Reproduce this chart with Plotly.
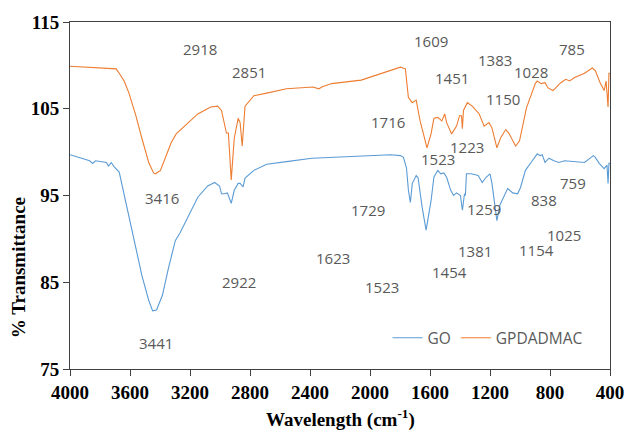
import plotly.graph_objects as go

# ---- data (wavenumber cm-1, % transmittance) ----
go_x = [4000, 3869, 3849, 3830, 3757, 3744, 3725, 3705, 3672, 3620, 3607, 3561, 3521,
        3475, 3449, 3423, 3384, 3344, 3298, 3266, 3200, 3148, 3082, 3036, 3003, 2990,
        2970, 2951, 2925, 2905, 2879, 2866, 2846, 2833, 2774, 2689, 2557, 2387, 1862,
        1797, 1777, 1757, 1744, 1731, 1718, 1692, 1679, 1652, 1626, 1593, 1574, 1548,
        1528, 1508, 1489, 1462, 1443, 1423, 1397, 1384, 1370, 1364, 1357, 1325, 1279,
        1252, 1226, 1200, 1187, 1167, 1154, 1134, 1102, 1082, 1049, 1016, 997, 964,
        918, 885, 866, 852, 833, 807, 774, 741, 702, 610, 570, 511, 498, 472, 439,
        420, 413, 407, 400]
go_y = [99.7, 99.0, 98.7, 99.0, 98.8, 98.4, 98.8, 98.3, 97.7, 93.6, 92.7, 88.9, 85.8,
        82.9, 81.7, 81.8, 83.5, 86.6, 89.8, 90.7, 93.0, 94.8, 96.1, 96.5, 96.1, 95.2,
        95.2, 95.3, 94.1, 95.6, 96.4, 96.4, 96.0, 97.0, 97.9, 98.6, 98.9, 99.3, 99.7,
        99.6, 99.4, 98.2, 95.6, 94.2, 96.4, 97.3, 97.0, 93.6, 91.0, 94.4, 97.1, 97.9,
        97.5, 97.6, 97.1, 95.6, 95.0, 95.3, 95.0, 93.3, 95.2, 95.0, 97.5, 97.5, 97.3,
        96.5, 97.1, 97.5, 96.4, 93.6, 92.1, 93.9, 95.2, 95.8, 95.3, 95.2, 95.9, 97.9,
        99.0, 99.8, 99.6, 99.7, 98.8, 99.3, 99.0, 98.8, 99.0, 98.9, 98.8, 99.6, 99.4,
        98.7, 98.1, 98.5, 96.4, 98.7, 98.7]

gp_x = [4000, 3869, 3803, 3692, 3672, 3639, 3607, 3561, 3521, 3475, 3443, 3430, 3397,
        3364, 3325, 3292, 3233, 3148, 3062, 3016, 2990, 2970, 2957, 2944, 2925, 2905,
        2879, 2866, 2852, 2833, 2774, 2689, 2557, 2380, 2361, 2341, 2321, 2256, 2059,
        1797, 1764, 1744, 1718, 1692, 1666, 1620, 1593, 1574, 1548, 1521, 1502, 1489,
        1456, 1423, 1403, 1390, 1384, 1377, 1351, 1318, 1272, 1239, 1207, 1187, 1154,
        1128, 1095, 1075, 1029, 1003, 957, 898, 885, 859, 833, 813, 780, 728, 695, 669,
        636, 570, 518, 498, 466, 439, 426, 413, 407, 400]
gp_y = [109.9, 109.8, 109.7, 109.6, 109.1, 108.2, 106.8, 104.2, 101.6, 98.8, 97.6, 97.5,
        97.9, 99.3, 101.1, 102.1, 103.0, 104.4, 105.2, 105.3, 104.8, 103.4, 102.2, 102.2,
        96.8, 101.6, 103.9, 103.4, 100.7, 105.3, 106.5, 106.8, 107.3, 107.5, 107.4,
        107.3, 107.5, 107.9, 108.3, 109.8, 109.6, 106.3, 105.7, 106.0, 103.6, 100.5,
        102.1, 103.9, 104.0, 103.6, 104.4, 103.4, 102.1, 103.0, 104.2, 104.2, 102.7,
        104.8, 105.7, 105.3, 104.4, 103.0, 103.4, 102.8, 100.5, 101.7, 102.6, 102.2,
        100.7, 101.3, 105.1, 107.9, 108.2, 107.9, 108.0, 107.4, 107.1, 108.0, 108.4,
        108.2, 108.6, 109.1, 109.7, 109.4, 108.0, 107.1, 108.2, 105.2, 109.1, 109.1]

# peak labels
gp_labels = ["2918", "2851", "3416", "1609", "1716", "1451", "1383", "1028", "785",
             "1150", "1223", "1523"]
gp_label_x = [3134, 2807, 3384, 1593, 1882, 1456, 1167, 925, 656, 1115, 1351, 1548]
gp_label_y = [111.9, 109.25, 94.66, 112.8, 103.5, 108.6, 110.6, 109.25, 111.9,
              106.15, 100.6, 99.25]

go_labels = ["3441", "2922", "1729", "1623", "1523", "1454", "1381", "1259", "1154",
             "1025", "838", "759"]
go_label_x = [3430, 2872, 2013, 2249, 1921, 1469, 1298, 1239, 892, 708, 839, 649]
go_label_y = [78.0, 85.0, 93.3, 87.8, 84.4, 86.15, 88.6, 93.5, 88.7, 90.5, 94.5, 96.4]

x_ticks = [4000, 3600, 3200, 2800, 2400, 2000, 1600, 1200, 800, 400]
y_ticks = [75, 85, 95, 105, 115]

BLUE = "#5B9BD5"
ORANGE = "#ED7D31"
LABEL_GREY = "#595959"
SERIF = "Liberation Serif, Times New Roman, serif"
SANS = "Open Sans, sans-serif"

fig = go.Figure()
fig.add_trace(go.Scatter(x=go_x, y=go_y, mode="lines", name="GO",
                         line=dict(color=BLUE, width=1.1)))
fig.add_trace(go.Scatter(x=gp_x, y=gp_y, mode="lines", name="GPDADMAC",
                         line=dict(color=ORANGE, width=1.1)))

annotations = []
for lab, ax, ay in zip(gp_labels + go_labels, gp_label_x + go_label_x,
                       gp_label_y + go_label_y):
    annotations.append(dict(x=ax, y=ay, xref="x", yref="y", text=lab,
                            showarrow=False, xanchor="center", yanchor="middle",
                            font=dict(family=SANS, size=15, color=LABEL_GREY)))

annotations.append(dict(x=0.5, y=-0.1437, xref="paper", yref="paper",
                        text="Wavelength (cm<sup>-1</sup>)", showarrow=False,
                        xanchor="center", yanchor="middle",
                        font=dict(family=SERIF, size=19, color="black", weight="bold")))
annotations.append(dict(x=-0.0965, y=0.293, xref="paper", yref="paper",
                        text="% Transmittance", showarrow=False, textangle=-90,
                        xanchor="center", yanchor="middle",
                        font=dict(family=SERIF, size=19, color="black", weight="bold")))

fig.update_layout(
    width=636, height=430,
    margin=dict(l=70, r=17, t=21, b=61, pad=0),
    paper_bgcolor="white", plot_bgcolor="white",
    showlegend=True,
    legend=dict(orientation="h", x=0.588, y=0.089, xanchor="left", yanchor="middle",
                bgcolor="rgba(0,0,0,0)", font=dict(family=SANS, size=15.5, color=LABEL_GREY),
                itemwidth=30, tracegroupgap=0),
    annotations=annotations,
)
fig.update_xaxes(range=[4000, 400], tickvals=x_ticks, ticktext=[str(v) for v in x_ticks],
                 showgrid=False, zeroline=False, showline=True, linecolor="#404040",
                 linewidth=1, mirror=True, ticks="outside", ticklen=6, tickcolor="#404040",
                 tickfont=dict(family=SERIF, size=19, color="black", weight="bold"))
fig.update_yaxes(range=[75, 115], tickvals=y_ticks, showgrid=False, zeroline=False,
                 showline=True, linecolor="#404040", linewidth=1, mirror=True,
                 ticks="outside", ticklen=6, tickcolor="#404040",
                 tickfont=dict(family=SERIF, size=19, color="black", weight="bold"))

fig.write_html("out.html")
